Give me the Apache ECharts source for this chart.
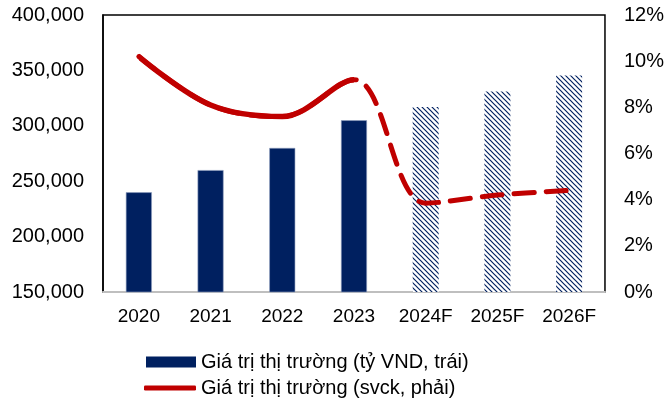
<head>
	<meta charset="utf-8">
	<title>Giá trị thị trường</title>
	<script src="https://cdn.jsdelivr.net/npm/echarts@6/dist/echarts.min.js"></script>
</head>
<body style="margin:0;background:#fff">
<div id="chart" style="width:667px;height:403px;"></div>

<script>
	// du lieu doc tu hinh
	var years = ['2020', '2021', '2022', '2023', '2024F', '2025F', '2026F'];
	var marketValue = [240000, 260000, 280000, 305000, 317000, 331000, 345500];
	var growthPct = [10.2, 8.1, 7.6, 9.2, 3.85, 4.2, 4.4];
	var forecastFrom = 4; // tu 2024F la du phong
	var barName = 'Giá trị thị trường (tỷ VND, trái)';
	var lineName = 'Giá trị thị trường (svck, phải)';

	var navy = '#002060';
	var red = '#c00000';
	var font = 'Liberation Sans, Arial, sans-serif';

	// hoa van gach cheo cho cot du phong
	var cv = document.createElement('canvas');
	cv.width = 5;
	cv.height = 5;
	var ctx = cv.getContext('2d');
	ctx.fillStyle = '#fff';
	ctx.fillRect(0, 0, 5, 5);
	ctx.strokeStyle = navy;
	ctx.lineWidth = 1.2;
	ctx.beginPath();
	ctx.moveTo(-1, -1); ctx.lineTo(6, 6);
	ctx.moveTo(-1, 4); ctx.lineTo(1, 6);
	ctx.moveTo(4, -1); ctx.lineTo(6, 1);
	ctx.stroke();

	var barData = marketValue.map(function(v, i) {
		if (i < forecastFrom) return v;
		return { value: v, itemStyle: { color: { image: cv, repeat: 'repeat' }, borderWidth: 0 } };
	});

	var myChart = echarts.init(document.getElementById('chart'));
	var option = {
		animation: false,
		textStyle: { fontFamily: font },
		grid: {
			left: 103, right: 61, top: 15, bottom: 111,
			show: true, borderColor: '#000', borderWidth: 1.5
		},
		legend: [
			{
				left: 141, top: 347,
				itemWidth: 50, itemHeight: 11,
				data: [{ name: barName, icon: 'rect', itemStyle: { color: navy, borderWidth: 0 } }],
				textStyle: { fontSize: 20, color: '#000', fontFamily: font }
			},
			{
				left: 139, top: 373,
				itemWidth: 52, itemHeight: 5,
				data: [{ name: lineName, icon: 'roundRect', itemStyle: { color: red, borderWidth: 0 } }],
				textStyle: { fontSize: 20, color: '#000', fontFamily: font }
			}
		],
		visualMap: {
			show: false,
			type: 'piecewise',
			seriesIndex: 2,
			dimension: 0,
			pieces: [
				{ min: 0, max: 3.15, color: red },
				{ min: 3.15, max: 6, color: 'rgba(255,255,255,0)' }
			]
		},
		xAxis: {
			type: 'category',
			data: years,
			axisLine: { lineStyle: { color: '#bfbfbf', width: 2 } },
			axisTick: { show: false },
			axisLabel: { fontSize: 19, color: '#000', margin: 15 }
		},
		yAxis: [
			{
				type: 'value',
				min: 150000, max: 400000, interval: 50000,
				axisLine: { show: true, lineStyle: { color: '#000', width: 1.5 } },
				axisTick: { show: false },
				splitLine: { show: false },
				axisLabel: {
					fontSize: 20, color: '#000', margin: 19,
					formatter: function(v) { return v.toString().replace(/\B(?=(\d{3})+(?!\d))/g, ','); }
				}
			},
			{
				type: 'value',
				min: 0, max: 12, interval: 2,
				axisLine: { show: false },
				axisTick: { show: false },
				splitLine: { show: false },
				axisLabel: { fontSize: 20, color: '#000', margin: 19, formatter: '{value}%' }
			}
		],
		series: [
			{
				name: barName,
				type: 'bar',
				barWidth: 26,
				itemStyle: { color: navy, borderColor: '#8ea0c0', borderWidth: 0.6 },
				data: barData
			},
			{
				// net dut cho giai doan du phong
				name: lineName,
				type: 'line',
				yAxisIndex: 1,
				smooth: 0.35,
				symbol: 'none',
				lineStyle: { color: red, width: 5, type: [20, 12], cap: 'round' },
				data: growthPct
			},
			{
				// net lien cho giai doan thuc te
				name: lineName,
				type: 'line',
				yAxisIndex: 1,
				smooth: 0.35,
				symbol: 'none',
				lineStyle: { width: 5.5, cap: 'round' },
				data: growthPct
			}
		]
	};
	myChart.setOption(option);
</script>
</body>
